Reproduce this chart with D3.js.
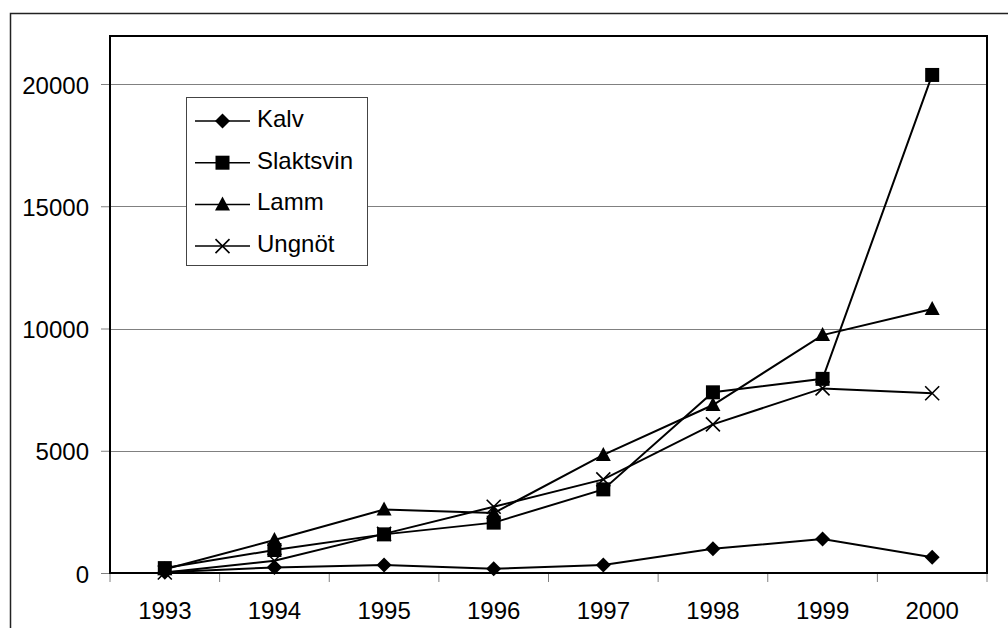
<!DOCTYPE html>
<html>
<head>
<meta charset="utf-8">
<script src="https://cdn.jsdelivr.net/npm/d3@7"></script>
<style>
  html, body { margin: 0; padding: 0; background: #fff; }
  svg { display: block; }
</style>
</head>
<body>
<script>
// データ
const years = ["1993", "1994", "1995", "1996", "1997", "1998", "1999", "2000"];
const kalv = [30, 230, 330, 170, 330, 990, 1390, 640];
const slaktsvin = [200, 940, 1580, 2060, 3420, 7390, 7940, 20370];
const lamm = [150, 1350, 2600, 2450, 4830, 6870, 9730, 10800];
const ungnot = [20, 500, 1600, 2710, 3830, 6080, 7550, 7350];
const yTicks = [0, 5000, 10000, 15000, 20000];

const series = [
  { name: "Kalv", values: kalv, marker: "diamond" },
  { name: "Slaktsvin", values: slaktsvin, marker: "square" },
  { name: "Lamm", values: lamm, marker: "triangle" },
  { name: "Ungnöt", values: ungnot, marker: "cross" }
];

const width = 1008, height = 628;
const plot = { left: 110, top: 36, right: 987, bottom: 573 };
const font = "Liberation Sans, Arial, sans-serif";
const fs = 24;

const svg = d3.select("body").append("svg")
  .attr("width", width)
  .attr("height", height)
  .style("font-family", font);

// 外枠
svg.append("rect")
  .attr("x", 10.5).attr("y", 13.5)
  .attr("width", 1010).attr("height", 640)
  .attr("fill", "white")
  .attr("stroke", "#222").attr("stroke-width", 1.5);

const x = d3.scaleBand().domain(years).range([plot.left, plot.right]);
const y = d3.scaleLinear().domain([0, 20000]).range([plot.bottom, 84]);

// グリッド
svg.append("g").selectAll("line")
  .data(yTicks.filter(d => d > 0))
  .join("line")
  .attr("x1", plot.left).attr("x2", plot.right)
  .attr("y1", d => Math.round(y(d)) + 0.5).attr("y2", d => Math.round(y(d)) + 0.5)
  .attr("stroke", "#808080").attr("stroke-width", 1);

// y軸
const yAxis = svg.append("g")
  .attr("transform", `translate(${plot.left},0)`)
  .call(d3.axisLeft(y).tickValues(yTicks).tickSize(9).tickPadding(12).tickFormat(d3.format("d")));
yAxis.select(".domain").remove();
yAxis.selectAll(".tick line").attr("stroke", "#808080");
yAxis.selectAll("text").attr("font-size", fs).attr("font-family", font).attr("fill", "#000").attr("dy", "0.38em");

// x軸
const xAxis = svg.append("g")
  .attr("transform", `translate(0,${plot.bottom})`)
  .call(d3.axisBottom(x).tickSize(0).tickPadding(29));
xAxis.select(".domain").remove();
xAxis.selectAll("text").attr("font-size", fs).attr("font-family", font).attr("fill", "#000");
svg.append("g").selectAll("line")
  .data(years.map((d, i) => i).concat([years.length]))
  .join("line")
  .attr("x1", i => plot.left + i * x.step()).attr("x2", i => plot.left + i * x.step())
  .attr("y1", plot.bottom).attr("y2", plot.bottom + 9)
  .attr("stroke", "#808080");

// プロット枠
svg.append("rect")
  .attr("x", plot.left).attr("y", plot.top)
  .attr("width", plot.right - plot.left).attr("height", plot.bottom - plot.top)
  .attr("fill", "none").attr("stroke", "#000").attr("stroke-width", 2);

// マーカー
function drawMarker(g, type, cx, cy) {
  if (type === "diamond") {
    g.append("path").attr("d", `M${cx},${cy - 7.5}L${cx + 7.5},${cy}L${cx},${cy + 7.5}L${cx - 7.5},${cy}Z`).attr("fill", "#000");
  } else if (type === "square") {
    g.append("rect").attr("x", cx - 7).attr("y", cy - 7).attr("width", 14).attr("height", 14).attr("fill", "#000");
  } else if (type === "triangle") {
    g.append("path").attr("d", `M${cx},${cy - 8}L${cx + 7.5},${cy + 6}L${cx - 7.5},${cy + 6}Z`).attr("fill", "#000");
  } else {
    g.append("path").attr("d", `M${cx - 7},${cy - 7}L${cx + 7},${cy + 7}M${cx - 7},${cy + 7}L${cx + 7},${cy - 7}`)
      .attr("stroke", "#000").attr("stroke-width", 1.6).attr("fill", "none");
  }
}

const line = d3.line()
  .x((d, i) => x(years[i]) + x.bandwidth() / 2)
  .y(d => y(d));

series.forEach(s => {
  svg.append("path")
    .attr("d", line(s.values))
    .attr("fill", "none").attr("stroke", "#000").attr("stroke-width", 2);
});
series.forEach(s => {
  const g = svg.append("g");
  s.values.forEach((v, i) => drawMarker(g, s.marker, x(years[i]) + x.bandwidth() / 2, y(v)));
});

// 凡例
const legend = svg.append("g");
legend.append("rect")
  .attr("x", 186.5).attr("y", 97.5).attr("width", 181).attr("height", 168)
  .attr("fill", "white").attr("stroke", "#444").attr("stroke-width", 1);
series.forEach((s, i) => {
  const ly = 121 + i * 41.7;
  legend.append("line")
    .attr("x1", 195).attr("x2", 250).attr("y1", ly).attr("y2", ly)
    .attr("stroke", "#000").attr("stroke-width", 1.5);
  drawMarker(legend, s.marker, 222.5, ly);
  legend.append("text")
    .attr("x", 257).attr("y", ly + 6)
    .attr("font-size", fs).attr("fill", "#000")
    .text(s.name);
});
</script>
</body>
</html>
